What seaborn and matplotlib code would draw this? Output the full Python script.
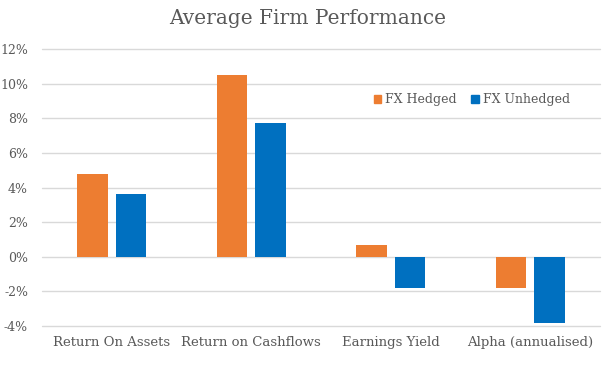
import seaborn as sns
import pandas as pd
import matplotlib.pyplot as plt
from matplotlib.ticker import FuncFormatter
from matplotlib.patches import Patch

categories = ['Return On Assets', 'Return on Cashflows', 'Earnings Yield', 'Alpha (annualised)']
series = ['FX Hedged', 'FX Unhedged']
hedged = [4.8, 10.5, 0.7, -1.8]
unhedged = [3.6, 7.7, -1.8, -3.8]
yticks = [-4, -2, 0, 2, 4, 6, 8, 10, 12]
colors = ['#ED7D31', '#0070C0']

df = pd.DataFrame({
    'category': categories * 2,
    'series': [series[0]] * 4 + [series[1]] * 4,
    'value': hedged + unhedged,
})

sns.set_style('white')
plt.rcParams['font.family'] = ['DejaVu Serif']
text_color = '#595959'

fig = plt.figure(figsize=(6.15, 3.66), dpi=100)
ax = fig.add_axes([0.0683, 0.1093, 0.9073, 0.7568])

for t in yticks:
    ax.axhline(t, color='#d9d9d9', linewidth=1, zorder=0, clip_on=False)

sns.barplot(data=df, x='category', y='value', hue='series', palette=colors,
            width=0.55, gap=0.2, saturation=1, linewidth=0, ax=ax,
            legend=False, zorder=2)

ax.set_ylim(-4, 12)
ax.set_yticks(yticks)
ax.yaxis.set_major_formatter(FuncFormatter(lambda v, p: f'{v:.0f}%'))
ax.set_xlim(-0.5, 3.5)
ax.set_xlabel('')
ax.set_ylabel('')
for s in ax.spines.values():
    s.set_visible(False)
ax.tick_params(axis='y', length=0, labelsize=9, colors=text_color, pad=10)
ax.tick_params(axis='x', length=0, labelsize=9.5, colors=text_color, pad=7)

handles = [Patch(color=c, label=l) for c, l in zip(colors, series)]
leg = ax.legend(handles=handles, loc='center', bbox_to_anchor=(0.77, 0.816), ncol=2,
                frameon=False, fontsize=9, handlelength=0.6, handleheight=0.6,
                handletextpad=0.3, columnspacing=1.2)
for t in leg.get_texts():
    t.set_color(text_color)

fig.suptitle('Average Firm Performance', x=0.5, y=0.975, fontsize=14.5, color=text_color)

fig.savefig('out.png', dpi=100)
